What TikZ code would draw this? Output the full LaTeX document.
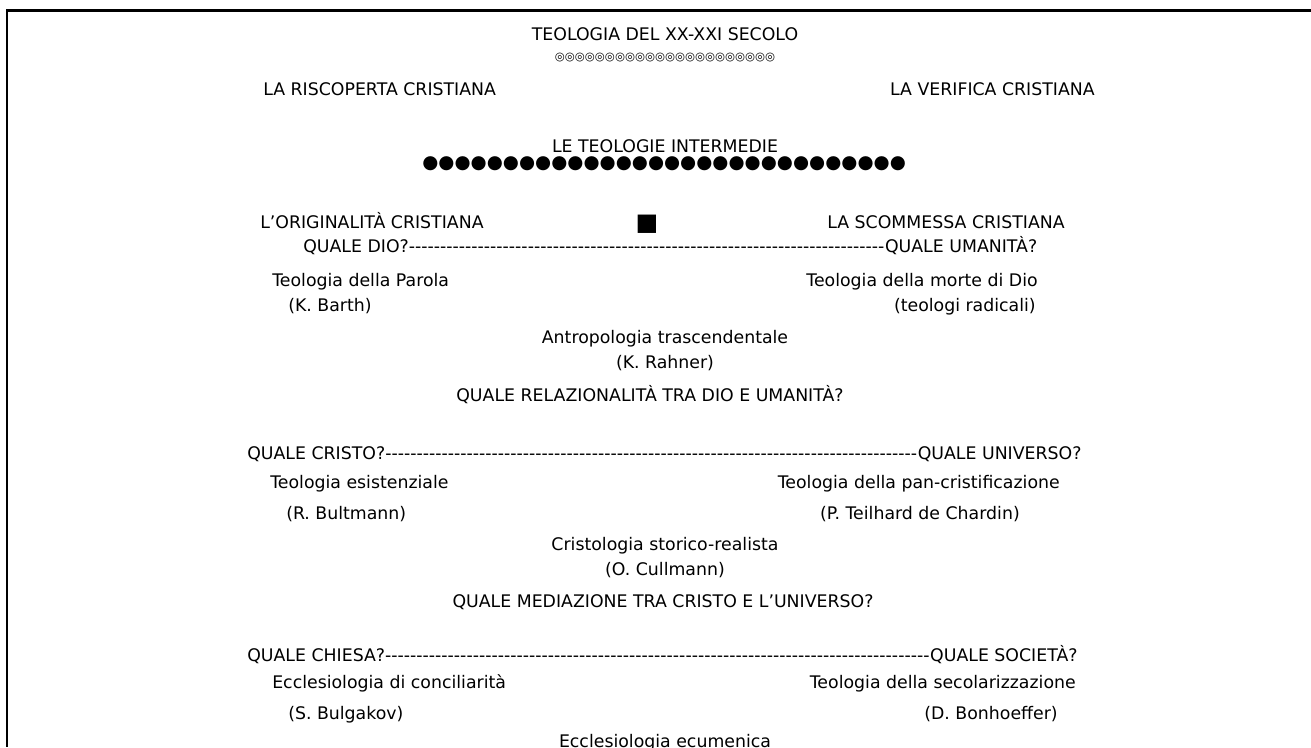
\documentclass[tikz,border=0pt]{standalone}
\usepackage{fontspec}
\setmainfont{DejaVu Sans}[Ligatures=TeXOff]
\begin{document}
\begin{tikzpicture}[x=0.75pt,y=-0.75pt,
  txt/.style={inner sep=0pt, font=\fontsize{13}{15}\selectfont},
  lft/.style={txt, anchor=base west},
  rgt/.style={txt, anchor=base east},
  ctr/.style={txt, anchor=base},
  rings/.style={inner sep=0pt, font=\fontsize{8.6}{10}\selectfont, anchor=center},
  dots/.style={inner sep=0pt, font=\fontsize{13.85}{15}\selectfont, anchor=center},
  sq/.style={inner sep=0pt, font=\fontsize{18}{20}\selectfont, anchor=center},
  frame/.style={line width=2pt}]
\useasboundingbox (0,0) rectangle (1311,747);
\coordinate (tl) at (7,10.5);
\coordinate (tr) at (1311,10.5);
\coordinate (bl) at (7,747);
\draw[frame] (tr) -- (tl) -- (bl);

\node[ctr] (title) at (665,40) {TEOLOGIA DEL XX-XXI SECOLO};
\node[rings] (ringrow) at (665,58) {◎◎◎◎◎◎◎◎◎◎◎◎◎◎◎◎◎◎◎◎◎◎};
\node[lft] (risc) at (263,95) {LA RISCOPERTA CRISTIANA};
\node[rgt] (verif) at (1095,95) {LA VERIFICA CRISTIANA};

\node[ctr] (inter) at (665,152) {LE TEOLOGIE INTERMEDIE};
\node[dots] (dotrow) at (664,164) {●●●●●●●●●●●●●●●●●●●●●●●●●●●●●●};

\node[lft] (orig) at (260,228) {L’ORIGINALITÀ CRISTIANA};
\node[sq] (square) at (647,224) {■};
\node[ctr] (scomm) at (946,228) {LA SCOMMESSA CRISTIANA};

\node[lft] (row1) at (303,252) {QUALE DIO?----------------------------------------------------------------------------QUALE UMANITÀ?};
\node[lft] (parola) at (272,286) {Teologia della Parola};
\node[rgt] (morte) at (1038,286) {Teologia della morte di Dio};
\node[lft] (barth) at (288,311) {(K. Barth)};
\node[rgt] (radic) at (1036,311) {(teologi radicali)};
\node[ctr] (antro) at (665,343) {Antropologia trascendentale};
\node[ctr] (rahner) at (665,368) {(K. Rahner)};
\node[ctr] (q1) at (650,401) {QUALE RELAZIONALITÀ TRA DIO E UMANITÀ?};

\node[lft] (row2) at (247,459) {QUALE CRISTO?-------------------------------------------------------------------------------------QUALE UNIVERSO?};
\node[lft] (esist) at (270,488) {Teologia esistenziale};
\node[rgt] (pancr) at (1060,488) {Teologia della pan-cristificazione};
\node[lft] (bult) at (286,519) {(R. Bultmann)};
\node[rgt] (teil) at (1020,519) {(P. Teilhard de Chardin)};
\node[ctr] (crist) at (665,550) {Cristologia storico-realista};
\node[ctr] (cull) at (665,575) {(O. Cullmann)};
\node[ctr] (q2) at (663,607) {QUALE MEDIAZIONE TRA CRISTO E L’UNIVERSO?};

\node[lft] (row3) at (247,661) {QUALE CHIESA?---------------------------------------------------------------------------------------QUALE SOCIETÀ?};
\node[lft] (concil) at (272,688) {Ecclesiologia di conciliarità};
\node[rgt] (secol) at (1076,688) {Teologia della secolarizzazione};
\node[lft] (bulg) at (288,719) {(S. Bulgakov)};
\node[rgt] (bonh) at (1058,719) {(D. Bonhoeffer)};
\node[ctr] (ecum) at (665,747) {Ecclesiologia ecumenica};
\end{tikzpicture}
\end{document}
